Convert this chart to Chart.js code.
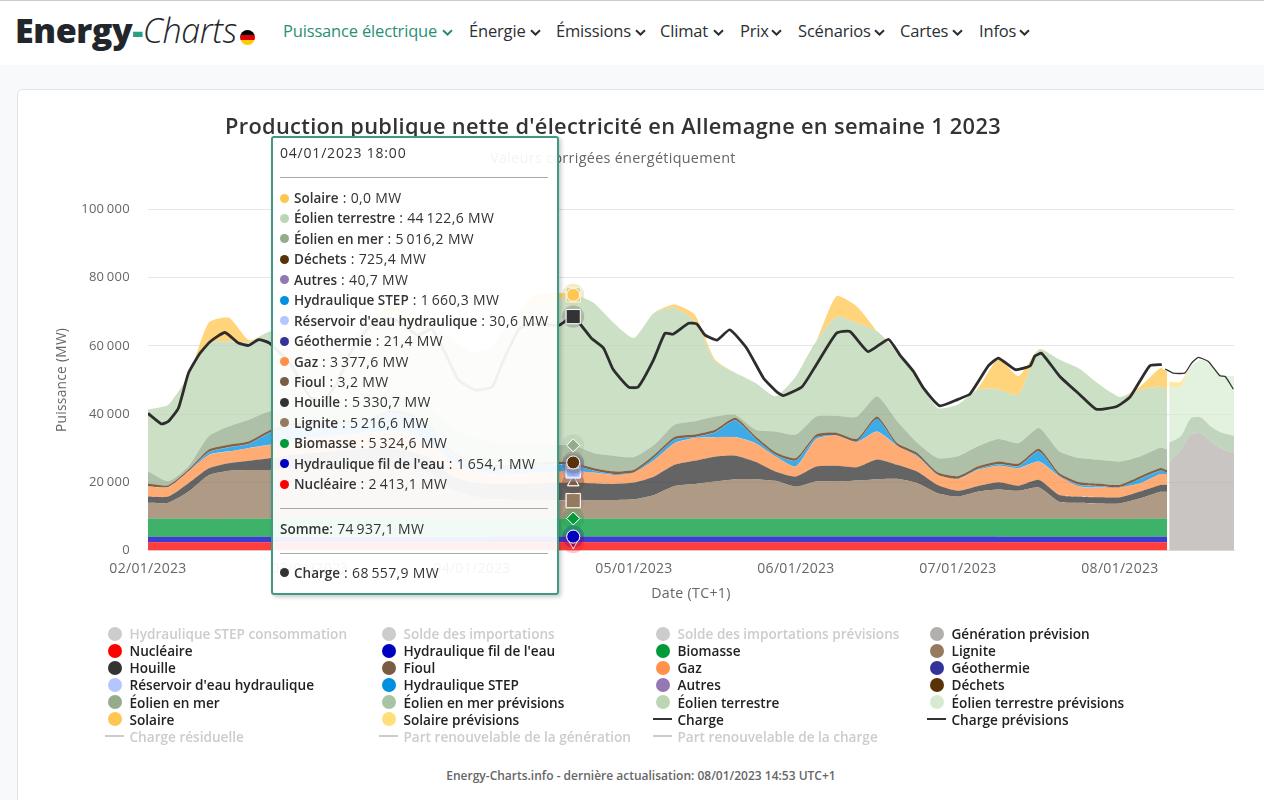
<!DOCTYPE html>
<html lang="fr">
<head>
<meta charset="utf-8">
<title>Energy-Charts</title>
<script src="https://cdn.jsdelivr.net/npm/chart.js@4"></script>
<style>
html,body{margin:0;padding:0;width:1264px;height:800px;overflow:hidden;background:#f8f9fa;font-family:"Open Sans",sans-serif;color:#333}
#top{position:absolute;left:0;top:0;width:1264px;height:65px;background:#fff;border-top:1px solid #ccc;box-sizing:border-box}
#logo{position:absolute;left:15px;top:8px;font-size:34px;line-height:42px;white-space:nowrap;color:#22262b;letter-spacing:-.4px}
#logo b{font-weight:800}#logo u{text-decoration:none;font-weight:800;color:#2a9d84}#logo i{font-weight:300}
#flag{position:absolute;left:240px;top:29px;width:15px;height:15px;border-radius:50%;background:linear-gradient(#000 0 33%,#d00 33% 66%,#fc0 66%)}
.nav{position:absolute;top:19px;font-size:16.5px;line-height:22px;color:#2b2f33;white-space:nowrap;letter-spacing:-.17px}
.nav.on{color:#2a8f75}
.nav svg{position:absolute;top:9px;width:11px;height:7px}
#card{position:absolute;left:17px;top:89px;width:1300px;height:800px;background:#fff;border:1px solid #e3e3e3;border-radius:5px;box-sizing:border-box}
#c{position:absolute;left:-10px;top:0}
#tip{position:absolute;left:271px;top:136px;width:288px;height:459px;box-sizing:border-box;border:2px solid #3f9a83;border-radius:3px;background:rgba(255,255,255,.93);box-shadow:2px 2px 4px rgba(0,0,0,.22);font-size:14px;color:#333;letter-spacing:.35px;white-space:nowrap}
#tip div{position:absolute;line-height:20px}
#tip hr{position:absolute;left:7px;width:268px;margin:0;border:0;border-top:1px solid #aaa}
#tip .d{width:9px;height:9px;border-radius:50%;left:7px}
#tip b{font-weight:600;letter-spacing:0;font-size:13.5px}
#leg{position:absolute;left:0;top:0}
#leg div{position:absolute;font-size:13.6px;font-weight:600;line-height:17px;white-space:nowrap;color:#222}
#leg div.off{color:#ccc}
#leg span{position:absolute}
#foot{position:absolute;left:0;width:1282px;top:767px;text-align:center;font-size:12px;font-weight:600;color:#666;line-height:17px}
</style>
</head>
<body>
<div id="top">
<div id="logo"><b>Energy</b><u>-</u><i>Charts</i></div><div id="flag"></div>
<div id="navs"></div>
</div>
<div id="card"></div>
<canvas id="c" width="1246" height="640"></canvas>
<div id="tip"></div>
<div id="leg"></div>
<div id="foot">Energy-Charts.info - dernière actualisation: 08/01/2023 14:53 UTC+1</div>
<script>
// ---------- data ----------
const navItems = ["Puissance électrique","Énergie","Émissions","Climat","Prix","Scénarios","Cartes","Infos"];
const dayLabels = ["02/01/2023","03/01/2023","04/01/2023","05/01/2023","06/01/2023","07/01/2023","08/01/2023"];

const hours = [0,3,6,9,12,15,18,21,24,27,30,33,36,39,42,45,48,51,54,57,60,63,66,69,72,75,78,81,84,87,90,93,96,99,102,105,108,111,114,117,120,123,126,129,132,135,138,141,144,147,150,151];

const nucleaire = [2450,2450,2440,2430,2430,2440,2440,2430,2430,2420,2420,2420,2420,2420,2420,2420,2420,2420,2420,2420,2420,2413.1,2420,2420,2430,2430,2430,2430,2430,2430,2440,2440,2440,2440,2440,2440,2440,2450,2450,2450,2450,2450,2450,2450,2450,2450,2450,2450,2450,2450,2450,2450];
const filEau = [1600,1600,1600,1610,1610,1610,1620,1620,1620,1620,1630,1630,1630,1630,1640,1640,1640,1640,1650,1650,1650,1654.1,1650,1650,1650,1650,1640,1640,1640,1640,1640,1640,1630,1630,1630,1630,1630,1620,1620,1620,1620,1620,1610,1610,1610,1610,1600,1600,1600,1600,1600,1600];
const biomasse = [5300,5300,5310,5300,5300,5310,5300,5300,5300,5310,5300,5300,5320,5300,5300,5310,5290,5280,5280,5290,5280,5324.6,5280,5280,5280,5270,5280,5280,5280,5280,5280,5280,5280,5280,5290,5280,5280,5280,5280,5280,5280,5280,5290,5290,5290,5290,5290,5290,5290,5290,5300,5300];
const lignite = [4650,4650,7950,12750,14050,14250,14250,14650,14650,15150,15150,15150,15150,14650,13150,8650,6650,5650,5450,5450,5350,5216.6,5450,5450,5650,6950,9550,10150,10850,11550,11550,11050,9350,10850,10850,11150,11550,11650,10350,7450,6450,7950,8550,8150,9150,4950,4650,4450,4450,5950,7850,7850];
const houille = [1800,1800,2400,2000,2200,2700,3400,4000,4500,4500,5000,5500,5500,5000,4500,4000,4000,4500,4700,4900,5100,5330.7,4900,4700,4900,5400,6200,6800,7300,6900,5100,2700,3000,4400,4600,3900,5800,4100,3400,2400,1700,1600,2100,1500,2200,2000,1800,1800,1800,2000,2000,2000];
const fioul = [30,30,30,30,30,20,20,20,20,20,20,10,10,10,10,10,10,5,5,5,5,3.2,5,5,5,5,10,10,10,10,10,10,10,10,10,10,10,10,10,10,10,10,10,10,10,10,10,10,10,10,10,10];
const gaz = [2900,2700,3400,3900,3400,3700,3900,4000,4500,4500,4500,4500,5000,5000,4000,4000,3500,3000,3000,3100,3200,3377.6,3100,2600,2900,4800,6300,6600,5700,5400,5400,4400,2900,8000,8800,7300,8100,5500,4400,2900,3400,4700,4800,5100,5300,5400,2900,2800,2900,2400,3200,3100];
const geothermie = [20,20,20,21,21,21,21,21,21,21,21,21,21,21,21,21,21,21,21,21,21,21.4,21,21,21,21,21,21,21,21,21,21,21,21,21,21,21,21,21,21,21,21,21,21,21,21,21,21,21,21,21,21];
const reservoir = [20,20,20,25,30,30,40,40,30,25,25,25,30,30,30,30,25,25,25,25,30,30.6,30,30,25,25,25,25,30,30,30,30,30,30,30,30,30,30,30,30,25,25,25,30,30,30,30,25,25,25,25,25];
const step = [50,0,0,750,1150,1150,3450,4250,3750,3250,3250,3750,5250,5250,4250,2250,1750,1750,1750,1950,2250,1660.3,550,250,50,750,1050,250,1350,4850,1250,450,1650,550,50,150,3650,50,250,0,50,250,450,550,2950,150,450,350,0,1250,950,350];
const autres = [40,40,40,40,40,40,40,40,40,40,40,40,40,40,40,40,40,40,40,40,40,40.7,40,40,40,40,40,40,40,40,40,40,40,40,40,40,40,40,40,40,40,40,40,40,40,40,40,40,40,40,40,40];
const dechets = [750,500,500,750,750,750,750,750,750,750,750,750,750,750,750,750,750,750,750,750,750,725.4,750,750,750,750,750,750,750,750,750,750,750,750,750,750,750,750,750,700,750,750,750,750,750,750,750,750,700,750,750,750];
const eolienMer = [3600,1200,1000,3900,5400,6400,5600,5000,5500,5500,6000,6000,5000,5000,5000,7000,7000,7000,6000,5500,5000,5016.2,4400,4600,3700,2900,3600,3900,3900,900,1900,6100,6900,5300,5000,6500,5900,6400,2900,4200,5800,5900,6600,6000,6100,6400,7100,7000,6800,5800,5900,6100];
const eolienTerre = [18100,22400,26400,27400,24900,22700,23300,21000,17000,15000,18000,21000,24000,23000,25000,26000,25000,28000,37000,41000,42000,44122.6,44000,38900,34900,38700,34200,29300,16200,12300,13700,10300,17100,22000,29000,27500,19100,20200,18600,14700,15200,16600,14500,14200,23000,26900,26200,22000,18900,19500,18000,17400];
const solaire = [0,0,0,5900,6900,500,0,0,0,0,0,1000,2000,1000,0,0,0,0,0,2500,2500,0,0,0,0,0,1000,1900,500,0,0,0,0,0,6000,4900,0,0,0,0,0,400,8900,5400,0,0,0,0,0,1000,5400,5500];

const chargeHours = [0,2,3,4.5,6,7.7,9.2,11.4,13.4,14.9,16.4,18,21,24,26,28,30,33,36,38,40,42,44,46,48.5,51,52.5,55,57,60,61,63,65.7,67.5,68.9,71.2,72.6,74.9,76.6,77.8,80.1,81.3,82.5,84.3,86.2,88.7,91.2,93.1,94.1,96.9,99,102,104,106.7,109.7,111.4,113.4,114.9,117.3,120,121.8,124.5,126,128.5,130.7,131.4,132.4,135.1,138.1,140.5,143.5,145.5,148.4,150.2];
const charge = [40200,37100,37800,41700,52000,57800,61200,63900,60800,60100,61800,60800,55000,45000,44000,49000,58000,66000,68000,66000,63000,65000,58000,50000,47000,48000,55000,65000,66500,66000,66100,68557.9,62200,59300,53100,47900,47900,55900,63700,63400,66600,66400,63200,61700,64700,59300,50500,46600,45400,48000,54400,63700,64200,58300,61900,57300,52500,47600,42400,44300,45900,54100,56400,53000,54100,57000,57800,51000,45600,41400,42200,45000,54100,54500];

const forecastHours = [151.3,153,154.5,156,157.5,159,160.9];
const generationPrevision = [25800,29500,33900,34400,31900,30000,28500];
const merPrevision = [5800,3900,4900,4600,4400,4600,5100];
const terrePrevision = [16400,14600,15100,16900,18100,16900,17400];
const solairePrevision = [1500,1500,0,0,0,0,0];
const chargePrevHours = [150.7,151.9,153.6,154.6,155.6,157.1,158.8,159.6,160.8];
const chargePrevision = [53200,52000,52000,54900,56600,55400,51200,51000,47300];

const hoverIndex = hours.indexOf(63);
const hoverTime = "04/01/2023 18:00";

const legendLabels = ["Hydraulique STEP consommation","Solde des importations","Solde des importations prévisions","Génération prévision","Nucléaire","Hydraulique fil de l'eau","Biomasse","Lignite","Houille","Fioul","Gaz","Géothermie","Réservoir d'eau hydraulique","Hydraulique STEP","Autres","Déchets","Éolien en mer","Éolien en mer prévisions","Éolien terrestre","Éolien terrestre prévisions","Solaire","Solaire prévisions","Charge","Charge prévisions","Charge résiduelle","Part renouvelable de la génération","Part renouvelable de la charge"];
const legendColors = ["#cccccc","#cccccc","#cccccc","#b3afac","#ff0000","#0000c0","#009a38","#957a5f","#333333","#7a5c44","#ff9148","#333399","#b3c6ff","#0090e0","#9378b4","#5a3208","#94ac8c","#a9c4a3","#bcd6b4","#d8ebd2","#ffc652","#ffdf7a","#333333","#333333","#cccccc","#cccccc","#cccccc"];
const legendLineItems = ["Charge","Charge prévisions","Charge résiduelle","Part renouvelable de la génération","Part renouvelable de la charge"];
const legendHidden = ["Hydraulique STEP consommation","Solde des importations","Solde des importations prévisions","Charge résiduelle","Part renouvelable de la génération","Part renouvelable de la charge"];

// ---------- helpers ----------
const colorOf = n => legendColors[legendLabels.indexOf(n)];
function alpha(hex,a){const v=parseInt(hex.slice(1),16);return `rgba(${v>>16},${(v>>8)&255},${v&255},${a})`;}
function fmt(n,dec){const s=(dec?n.toFixed(1):String(Math.round(n))).replace('.',',');const p=s.split(',');p[0]=p[0].replace(/\B(?=(\d{3})+$)/g,'\u2009');return p.join(',');}

const markerRadius={circle:6.5,rect:10,rectRot:6.5,triangle:6.5,triangleDown:6.5};
function area(name,values,style,fill,xs){
  const col=colorOf(name);
  return {label:name,data:values.map((y,i)=>({x:xs[i],y})),stack:'s',fill,backgroundColor:alpha(col,.76),borderColor:'transparent',borderWidth:0,tension:.2,
    pointStyle:style==='triangleDown'?'triangle':(style||'circle'),pointRotation:style==='triangleDown'?180:0,hoverMark:!!style,
    pointBackgroundColor:col,pointBorderColor:'#fff',pointBorderWidth:1,
    pointRadius:ctx=>(xs===hours&&ctx.dataIndex===hoverIndex&&style)?markerRadius[style]:0,pointHoverRadius:0,order:1};
}
const stackDefs=[
 ["Nucléaire",nucleaire,'triangleDown'],["Hydraulique fil de l'eau",filEau,'circle'],["Biomasse",biomasse,'rectRot'],["Lignite",lignite,'rect'],
 ["Houille",houille,'triangle'],["Fioul",fioul,'triangle'],["Gaz",gaz,'rect'],["Géothermie",geothermie,'rectRot'],["Réservoir d'eau hydraulique",reservoir,'rect'],
 ["Hydraulique STEP",step,'triangle'],["Autres",autres,'triangle'],["Déchets",dechets,'circle'],["Éolien en mer",eolienMer,'rectRot'],["Éolien terrestre",eolienTerre,'rect'],["Solaire",solaire,'circle']];
const datasets=[];
stackDefs.forEach((d,i)=>datasets.push(area(d[0],d[1],d[2],i?'-1':'origin',hours)));
[["Génération prévision",generationPrevision],["Éolien en mer prévisions",merPrevision],["Éolien terrestre prévisions",terrePrevision],["Solaire prévisions",solairePrevision]]
 .forEach((d,i)=>{const a=area(d[0],d[1],null,i?'-1':'origin',forecastHours);a.backgroundColor=alpha(colorOf(d[0]),.72);datasets.push(a);});
const chargeIdx=chargeHours.indexOf(63);
datasets.push({label:"Charge",data:charge.map((y,i)=>({x:chargeHours[i],y})),borderColor:'#2d2d2d',borderWidth:2.8,tension:.15,fill:false,stack:'l1',order:0,
  pointStyle:'rect',hoverMark:true,pointBackgroundColor:'#333',pointBorderColor:'#fff',pointBorderWidth:1,pointRadius:ctx=>ctx.dataIndex===chargeIdx?10:0,pointHoverRadius:0});
datasets.push({label:"Charge prévisions",data:chargePrevision.map((y,i)=>({x:chargePrevHours[i],y})),borderColor:'#333',borderWidth:1.3,tension:.15,fill:false,stack:'l2',order:0,pointRadius:0});

const spacingPlugin={id:'spacing',beforeLayout(c){c.ctx.letterSpacing='0.3px';},beforeDraw(c){c.ctx.letterSpacing='0.3px';}};
const haloPlugin={id:'halo',afterDatasetsDraw(chart){
  const ctx=chart.ctx;
  chart.data.datasets.forEach((ds,i)=>{
    if(!ds.hoverMark)return;
    const isCharge=ds.label==="Charge";
    const el=chart.getDatasetMeta(i).data[isCharge?chargeIdx:hoverIndex];
    ctx.save();ctx.beginPath();ctx.arc(el.x,el.y,11,0,Math.PI*2);ctx.fillStyle=alpha(colorOf(ds.label),.22);ctx.fill();ctx.restore();
    el.draw(ctx,chart.chartArea);
  });
}};

new Chart(document.getElementById('c'),{
 type:'line',
 data:{datasets},
 plugins:[spacingPlugin,haloPlugin],
 options:{
  responsive:false,animation:false,devicePixelRatio:1,
  layout:{padding:{left:2,right:2,top:115,bottom:37.5}},
  plugins:{
   legend:{display:false},tooltip:{enabled:false},
   title:{display:true,text:"Production publique nette d'électricité en Allemagne en semaine 1 2023",color:'#333',font:{family:'"Open Sans"',size:21.8,weight:'600'},padding:{top:0,bottom:9.2}},
   subtitle:{display:true,text:"Valeurs corrigées énergétiquement",color:'#666',font:{family:'"Open Sans"',size:14.4},padding:{top:0,bottom:41.7}}
  },
  scales:{
   x:{type:'linear',min:0,max:160.9,grid:{display:false,drawTicks:false},border:{display:true,color:'#dcdcdc',width:1},
      afterFit(s){s.height=52;},
      ticks:{stepSize:24,includeBounds:false,autoSkip:false,maxRotation:0,minRotation:0,padding:10,color:'#666',font:{family:'"Open Sans"',size:14},callback:v=>dayLabels[v/24]},
      title:{display:true,text:'Date (TC+1)',color:'#666',font:{family:'"Open Sans"',size:14.2},padding:{top:0,bottom:0}}},
   y:{stacked:true,min:0,max:100000,grid:{color:'#e6e6e6',drawTicks:false},border:{display:false},
      afterFit(s){s.width=156;},
      ticks:{stepSize:20000,padding:18,color:'#666',font:{family:'"Open Sans"',size:13},callback:v=>fmt(v,false)},
      title:{display:true,text:'Puissance (MW)',color:'#666',font:{family:'"Open Sans"',size:13.7},padding:{top:62,bottom:0}}}
  }
 }
});

// ---------- page chrome built from the same arrays ----------
const chev=c=>`<svg viewBox="0 0 11 7"><path d="M1 1.2l4.5 4.3L10 1.2" fill="none" stroke="${c}" stroke-width="2"/></svg>`;
const navX=[283,469,556,660,740,798,900,979], navChev=[442,530,635,713,771,874,952,1019];
document.getElementById('navs').innerHTML=navItems.map((t,i)=>`<div class="nav${i?'':' on'}" style="left:${navX[i]}px">${t}</div><div class="nav" style="left:${navChev[i]}px;width:11px;height:22px">${chev(i?'#2b2f33':'#2a8f75')}</div>`).join('');

const tip=document.getElementById('tip');
const tipRows=stackDefs.slice().reverse();
let h=`<div style="left:7px;top:5px;letter-spacing:.8px">${hoverTime}</div><hr style="top:39px">`;
tipRows.forEach((d,i)=>{const y=50+i*20.44;
  h+=`<div class="d" style="top:${y+5.5}px;background:${colorOf(d[0])}"></div><div style="left:21px;top:${y}px"><b>${d[0]}</b> : ${fmt(d[1][hoverIndex],true)} MW</div>`;});
const somme=stackDefs.reduce((s,d)=>s+d[1][hoverIndex],0);
h+=`<hr style="top:370px"><div style="left:7px;top:381px"><b>Somme</b>: ${fmt(somme,true)} MW</div><hr style="top:415px">`;
h+=`<div class="d" style="top:430px;background:#333"></div><div style="left:21px;top:425px"><b>Charge</b> : ${fmt(charge[chargeIdx],true)} MW</div>`;
tip.innerHTML=h;

const colX=[105,379,653,927];
document.getElementById('leg').innerHTML=legendLabels.map((t,i)=>{
  const col=i%4,row=Math.floor(i/4),y=625+row*17.15,x=colX[col],off=legendHidden.includes(t);
  const mark=legendLineItems.includes(t)
   ?`<span style="left:0;top:7.5px;width:19px;height:2px;background:${legendColors[i]}"></span>`
   :`<span style="left:2.5px;top:1.5px;width:14px;height:14px;border-radius:50%;background:${legendColors[i]}"></span>`;
  return `<div class="${off?'off':''}" style="left:${x}px;top:${y}px;padding-left:24.5px">${mark}${t}</div>`;}).join('');
</script>
</body>
</html>
